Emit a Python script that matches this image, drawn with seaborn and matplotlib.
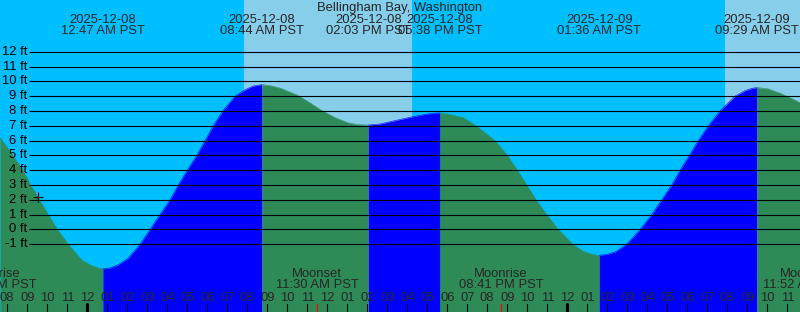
import numpy as np
import pandas as pd
import matplotlib
matplotlib.use("Agg")
import matplotlib.pyplot as plt
import matplotlib.transforms as mtransforms
import seaborn as sns

# ---------------- data (hours since 2025-12-08 00:00 PST) ----------------
station = "Bellingham Bay, Washington"

tide_hours = [-4.365, -3.73, -3.23, -2.83, -2.40, -1.95, -1.50, -0.95, -0.28,
              0.135, 0.485, 0.783, 1.16, 1.535, 2.035, 2.635, 3.135, 3.635, 4.135,
              4.55, 5.0, 5.47, 5.885, 6.3, 6.77, 7.385, 7.885, 8.285, 8.733,
              9.185, 9.635, 10.535, 11.135, 11.635, 12.385, 13.035, 13.535, 14.05,
              14.635, 15.385, 16.235, 16.885, 17.335, 17.633,
              18.135, 18.80, 19.435, 20.385, 21.0, 21.5, 21.97, 22.435, 22.97,
              23.55, 24.27, 24.80, 25.30, 25.6,
              25.985, 26.385, 26.97, 27.635, 28.22, 28.72, 29.22, 29.635, 30.1,
              30.55, 31.05, 31.635, 32.385, 32.885, 33.235, 33.483,
              34.035, 34.635, 35.135, 35.635]
tide_feet = [6.22, 5.0, 4.0, 3.0, 2.0, 1.0, 0.0, -1.0, -2.06,
             -2.38, -2.57, -2.65, -2.59, -2.39, -1.95, -1.0, 0.0, 1.0, 2.0,
             3.0, 4.0, 5.0, 6.0, 7.0, 8.0, 9.0, 9.43, 9.68, 9.78,
             9.7, 9.55, 9.05, 8.55, 8.1, 7.55, 7.2, 7.08, 7.05,
             7.12, 7.35, 7.6, 7.77, 7.85, 7.87,
             7.77, 7.55, 7.0, 6.0, 5.0, 4.0, 3.0, 2.0, 1.0,
             0.0, -1.0, -1.47, -1.69, -1.74,
             -1.68, -1.52, -1.0, 0.0, 1.0, 2.0, 3.0, 4.0, 5.0,
             6.0, 7.0, 8.0, 9.0, 9.37, 9.53, 9.58,
             9.5, 9.2, 8.9, 8.55]

extreme_hours = [0.783, 8.733, 14.05, 17.633, 25.6, 33.483]
extreme_kind = ["low", "high", "low", "high", "low", "high"]
extreme_dates = ["2025-12-08", "2025-12-08", "2025-12-08", "2025-12-08",
                 "2025-12-09", "2025-12-09"]
extreme_times = ["12:47 AM PST", "08:44 AM PST", "02:03 PM PST",
                 "05:38 PM PST", "01:36 AM PST", "09:29 AM PST"]

sunrise_hours = [7.835, 31.885]
sunset_hours = [16.235]

moon_events = ["Moonrise", "Moonset", "Moonrise", "Moonset"]
moon_hours = [-4.67, 11.5, 20.683, 35.867]
moon_times = ["07:20 PM PST", "11:30 AM PST", "08:41 PM PST", "11:52 AM PST"]

height_levels = list(range(-1, 13))
hour_ticks = list(range(-4, 36))

now_hour = [-2.48]
now_feet = [2.2]

# ---------------- layout / style ----------------
W, H = 800, 312
X_MIN, X_MAX = -4.365, 35.635
Y_MIN, Y_MAX = -5.569, 15.49
NIGHT = "#00BFFF"
DAY = "#87CEEB"
FALL = "#2E8B57"
RISE = "#0000FF"
FS = 9.4

sns.set_theme(style="white")
plt.rcParams["font.family"] = ["Liberation Sans", "DejaVu Sans"]

fig = plt.figure(figsize=(W / 100, H / 100), dpi=100)
ax = fig.add_axes([0, 0, 1, 1])
ax.set_xlim(X_MIN, X_MAX)
ax.set_ylim(Y_MIN, Y_MAX)
ax.set_axis_off()
ax.add_patch(plt.Rectangle((0, 0), 1, 1, transform=ax.transAxes,
                           color=NIGHT, zorder=0))

# daylight spans
starts = sorted(sunrise_hours)
ends = sorted(sunset_hours)
for i, s in enumerate(starts):
    e = ends[i] if i < len(ends) else X_MAX
    ax.axvspan(s, e, color=DAY, lw=0, zorder=1)

# tide fill, coloured by rising / falling
df = pd.DataFrame({"hour": tide_hours, "feet": tide_feet})
bounds = [X_MIN] + extreme_hours + [X_MAX]
t = df["hour"].to_numpy()
for i in range(len(bounds) - 1):
    b0, b1 = bounds[i], bounds[i + 1]
    if i < len(extreme_kind):
        falling = extreme_kind[i] == "low"
    else:
        falling = extreme_kind[-1] == "high"
    col = FALL if falling else RISE
    seg = df[(t >= b0 - 1e-6) & (t <= b1 + 1e-6)]
    ax.fill_between(seg["hour"], seg["feet"], Y_MIN, color=col, lw=0, zorder=2)
    sns.lineplot(data=seg, x="hour", y="feet", color=col, lw=0.4,
                 ax=ax, zorder=2.5, sort=False)
ax.set_axis_off()

# height grid lines + labels
line_x0 = X_MIN + 29 / W * (X_MAX - X_MIN)
lab_x = X_MIN + 27 / W * (X_MAX - X_MIN)
ax.hlines(height_levels, line_x0, X_MAX, colors="black", lw=0.8, zorder=3)
for lv in height_levels:
    ax.text(lab_x, lv, f"{lv} ft", ha="right", va="center",
            fontsize=FS, color="black", zorder=4)

# current time marker
ax.plot(now_hour, now_feet, marker="+", color="black", ms=7, mew=0.8, zorder=4)

trans = mtransforms.blended_transform_factory(ax.transData, ax.transAxes)

def yf(px):
    return 1 - px / H

# title and extremes
ax.text(0.5, yf(7.8), station, ha="center", va="center", fontsize=FS,
        transform=ax.transAxes, zorder=5)
for hr, d, tm in zip(extreme_hours, extreme_dates, extreme_times):
    ax.text(hr, yf(19.7), d, ha="center", va="center", fontsize=FS,
            transform=trans, zorder=5)
    ax.text(hr, yf(31.3), tm, ha="center", va="center", fontsize=FS,
            transform=trans, zorder=5)

# moon events
for hr, ev, tm in zip(moon_hours, moon_events, moon_times):
    ax.text(hr, yf(274.3), ev, ha="center", va="center", fontsize=FS,
            transform=trans, zorder=5)
    ax.text(hr, yf(284.7), tm, ha="center", va="center", fontsize=FS,
            transform=trans, zorder=5)
    ax.axvline(hr, ymin=0, ymax=yf(304), color="red", lw=0.9, zorder=5)

# hour ticks and labels
for hr in hour_ticks:
    clock = hr % 24
    lab = f"{(clock - 1) % 12 + 1:02d}"
    ax.text(hr, yf(298), lab, ha="center", va="center", fontsize=FS,
            transform=trans, zorder=5)
    if clock == 0:
        ax.axvline(hr, ymin=0, ymax=yf(304), color="black", lw=2.2, zorder=5)
    else:
        ax.axvline(hr, ymin=0, ymax=yf(304), color="black", lw=0.8, zorder=5)

fig.savefig("out.png", dpi=100)
